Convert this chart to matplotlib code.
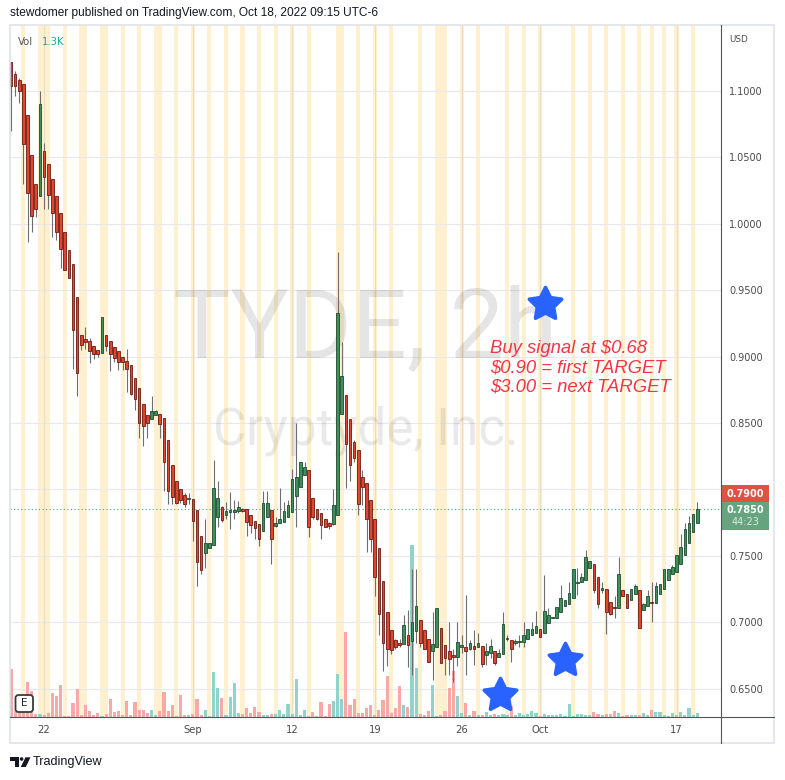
import matplotlib
matplotlib.use("Agg")
import matplotlib.pyplot as plt
import matplotlib.transforms as mtransforms
from matplotlib.patches import Rectangle, FancyBboxPatch, Polygon, Circle
from matplotlib.lines import Line2D
from matplotlib.markers import MarkerStyle
from matplotlib.path import Path
from matplotlib.text import Text
import numpy as np

# ---------------- data ----------------
OPEN = [1.122, 1.113, 1.108, 1.105, 1.082, 1.052, 1.030, 1.021, 1.055, 1.045,
        1.034, 1.021, 1.008, 0.994, 0.980, 0.970, 0.945, 0.916, 0.913, 0.912,
        0.908, 0.905, 0.903, 0.916, 0.912, 0.907, 0.904, 0.900, 0.897, 0.894,
        0.884, 0.876, 0.864, 0.856, 0.853, 0.856, 0.857, 0.854, 0.837, 0.818,
        0.806, 0.800, 0.796, 0.7925, 0.7925, 0.7845, 0.765, 0.752, 0.7555, 0.758,
        0.779, 0.7865, 0.781, 0.783, 0.783, 0.784, 0.785, 0.785, 0.7805, 0.7765,
        0.774, 0.7685, 0.779, 0.7845, 0.7725, 0.7745, 0.7755, 0.779, 0.783, 0.795,
        0.802, 0.811, 0.8145, 0.7935, 0.7855, 0.782, 0.778, 0.7745, 0.774, 0.7805,
        0.8565, 0.871, 0.853, 0.836, 0.830, 0.809, 0.805, 0.792, 0.7775, 0.7555,
        0.731, 0.7075, 0.694, 0.6865, 0.6845, 0.6835, 0.6905, 0.686, 0.693, 0.702,
        0.694, 0.687, 0.6785, 0.681, 0.6955, 0.683, 0.678, 0.675, 0.674, 0.681,
        0.681, 0.680, 0.682, 0.681, 0.682, 0.675, 0.6765, 0.6785, 0.674, 0.676,
        0.687, 0.6865, 0.684, 0.685, 0.685, 0.687, 0.690, 0.692, 0.6945, 0.692,
        0.6995, 0.7035, 0.703, 0.7075, 0.7125, 0.714, 0.718, 0.7298, 0.730, 0.732,
        0.7405, 0.744, 0.734, 0.724, 0.725, 0.7155, 0.7115, 0.711, 0.724, 0.7215,
        0.7165, 0.721, 0.724, 0.7095, 0.712, 0.7155, 0.7145, 0.721, 0.725, 0.732,
        0.736, 0.738, 0.744, 0.7505, 0.760, 0.768, 0.7745]
HIGH = [1.122, 1.115, 1.110, 1.105, 1.082, 1.052, 1.030, 1.100, 1.061, 1.045,
        1.034, 1.021, 1.008, 0.994, 0.980, 0.970, 0.945, 0.916, 0.922, 0.914,
        0.908, 0.905, 0.930, 0.916, 0.912, 0.907, 0.904, 0.900, 0.906, 0.894,
        0.884, 0.876, 0.864, 0.856, 0.870, 0.860, 0.857, 0.854, 0.837, 0.818,
        0.806, 0.800, 0.797, 0.797, 0.7925, 0.7845, 0.765, 0.7775, 0.760, 0.8225,
        0.8065, 0.7875, 0.7905, 0.798, 0.792, 0.791, 0.786, 0.785, 0.7805, 0.7765,
        0.774, 0.799, 0.799, 0.7845, 0.779, 0.801, 0.7905, 0.792, 0.815, 0.850,
        0.8205, 0.8205, 0.8145, 0.7935, 0.7855, 0.782, 0.778, 0.7755, 0.800, 0.979,
        0.911, 0.871, 0.853, 0.837, 0.830, 0.8145, 0.805, 0.792, 0.7775, 0.7555,
        0.731, 0.7075, 0.694, 0.687, 0.687, 0.7055, 0.7095, 0.740, 0.740, 0.702,
        0.694, 0.687, 0.708, 0.7105, 0.6955, 0.683, 0.7005, 0.680, 0.7005, 0.6905,
        0.7205, 0.6865, 0.694, 0.6915, 0.682, 0.684, 0.687, 0.6785, 0.680, 0.7075,
        0.6905, 0.6865, 0.687, 0.6905, 0.7005, 0.695, 0.7005, 0.7085, 0.6945, 0.7355,
        0.711, 0.704, 0.7115, 0.728, 0.7165, 0.7305, 0.740, 0.7405, 0.737, 0.7545,
        0.746, 0.744, 0.734, 0.730, 0.725, 0.7155, 0.720, 0.749, 0.724, 0.7215,
        0.725, 0.729, 0.724, 0.7145, 0.724, 0.730, 0.730, 0.7285, 0.740, 0.740,
        0.743, 0.7505, 0.7665, 0.775, 0.780, 0.7815, 0.7905]
LOW = [1.070, 1.096, 1.091, 1.030, 0.986, 0.994, 1.005, 1.021, 1.011, 1.011,
       0.990, 0.988, 0.967, 0.965, 0.959, 0.891, 0.870, 0.905, 0.906, 0.895,
       0.898, 0.900, 0.903, 0.904, 0.889, 0.896, 0.890, 0.890, 0.873, 0.871,
       0.860, 0.839, 0.833, 0.839, 0.853, 0.856, 0.839, 0.799, 0.789, 0.789,
       0.789, 0.790, 0.787, 0.789, 0.761, 0.727, 0.736, 0.7405, 0.7555, 0.758,
       0.772, 0.7755, 0.778, 0.7705, 0.778, 0.7825, 0.783, 0.765, 0.767, 0.763,
       0.7575, 0.7685, 0.779, 0.7435, 0.7715, 0.7745, 0.7755, 0.779, 0.783, 0.772,
       0.802, 0.811, 0.764, 0.7775, 0.777, 0.763, 0.7715, 0.7705, 0.773, 0.7805,
       0.8565, 0.801, 0.806, 0.821, 0.781, 0.788, 0.753, 0.753, 0.720, 0.6905,
       0.663, 0.667, 0.676, 0.680, 0.681, 0.6835, 0.6665, 0.660, 0.684, 0.6815,
       0.680, 0.670, 0.6565, 0.681, 0.6695, 0.6605, 0.6605, 0.655, 0.667, 0.6765,
       0.6605, 0.679, 0.668, 0.681, 0.666, 0.668, 0.673, 0.668, 0.674, 0.676,
       0.6855, 0.670, 0.683, 0.6815, 0.6815, 0.687, 0.690, 0.692, 0.689, 0.692,
       0.6995, 0.703, 0.703, 0.7075, 0.7125, 0.714, 0.718, 0.7205, 0.730, 0.732,
       0.7405, 0.722, 0.711, 0.722, 0.691, 0.7055, 0.7035, 0.711, 0.720, 0.7105,
       0.7165, 0.721, 0.696, 0.7095, 0.712, 0.7005, 0.7145, 0.721, 0.725, 0.732,
       0.736, 0.738, 0.744, 0.7505, 0.760, 0.768, 0.7745]
CLOSE = [1.104, 1.104, 1.100, 1.060, 1.023, 1.006, 1.011, 1.090, 1.035, 1.022,
         1.008, 0.994, 0.981, 0.965, 0.959, 0.920, 0.888, 0.909, 0.911, 0.904,
         0.902, 0.902, 0.930, 0.908, 0.902, 0.899, 0.896, 0.896, 0.891, 0.872,
         0.868, 0.850, 0.848, 0.850, 0.859, 0.859, 0.849, 0.821, 0.799, 0.794,
         0.790, 0.792, 0.789, 0.7935, 0.776, 0.745, 0.739, 0.7595, 0.760, 0.801,
         0.7935, 0.777, 0.784, 0.7845, 0.7845, 0.7865, 0.784, 0.7755, 0.773, 0.771,
         0.7625, 0.7895, 0.7895, 0.7625, 0.775, 0.778, 0.7835, 0.788, 0.8075, 0.809,
         0.8205, 0.817, 0.7715, 0.779, 0.7775, 0.7735, 0.7715, 0.7725, 0.788, 0.9325,
         0.8855, 0.8345, 0.818, 0.824, 0.789, 0.8015, 0.778, 0.763, 0.734, 0.706,
         0.684, 0.680, 0.679, 0.6815, 0.6825, 0.698, 0.6825, 0.700, 0.712, 0.6845,
         0.680, 0.670, 0.6835, 0.7105, 0.6695, 0.673, 0.672, 0.6735, 0.685, 0.6825,
         0.6785, 0.684, 0.6795, 0.684, 0.6685, 0.678, 0.682, 0.669, 0.677, 0.6985,
         0.688, 0.680, 0.686, 0.6855, 0.690, 0.695, 0.695, 0.6975, 0.689, 0.7085,
         0.7055, 0.7037, 0.7115, 0.7185, 0.7165, 0.722, 0.740, 0.7303, 0.734, 0.749,
         0.746, 0.724, 0.714, 0.726, 0.7075, 0.7065, 0.711, 0.736, 0.720, 0.7105,
         0.725, 0.727, 0.696, 0.7135, 0.7195, 0.7145, 0.727, 0.7285, 0.740, 0.740,
         0.7415, 0.7505, 0.7565, 0.770, 0.775, 0.7815, 0.785]
VOLUME = [15600, 2000, 1600, 2600, 11400, 8500, 980, 980, 650, 1300,
          7800, 6800, 10400, 330, 330, 4600, 9100, 650, 3900, 2000,
          650, 1300, 330, 980, 5900, 1600, 2000, 650, 5200, 650,
          4900, 2300, 2300, 1300, 2300, 650, 2000, 8100, 2000, 3900,
          330, 7200, 650, 650, 980, 5900, 650, 2300, 330, 14600,
          9400, 6200, 650, 6500, 11100, 1300, 980, 2900, 1300, 3300,
          1600, 650, 650, 980, 980, 2300, 980, 4200, 980, 12400,
          650, 2300, 330, 1600, 330, 4900, 330, 4200, 5200, 14000,
          5900, 27600, 3900, 5900, 1300, 1300, 2900, 3900, 650, 2300,
          5500, 13300, 1300, 2900, 10100, 3900, 3300, 55900, 15900, 980,
          650, 2000, 10400, 330, 650, 2000, 9400, 15000, 6800, 1300,
          4600, 650, 2000, 650, 650, 1600, 650, 980, 650, 980,
          650, 3600, 650, 1300, 650, 980, 2000, 1300, 330, 980,
          650, 650, 650, 980, 330, 4200, 330, 980, 980, 650,
          650, 1600, 980, 650, 980, 980, 2000, 1300, 330, 650,
          650, 650, 650, 1300, 650, 2300, 1600, 1600, 650, 330,
          1300, 650, 1600, 650, 2900, 650, 1300]
EXTENDED_HOURS_BARS = [3, 7, 8, 9, 13, 17, 18, 22, 23, 27, 31, 35, 36, 40, 44, 48,
                       52, 56, 60, 64, 68, 72, 79, 80, 84, 88, 92, 99, 103, 104,
                       105, 109, 113, 120, 124, 128, 136, 140, 144, 148, 152, 155,
                       158, 161, 165]
DATE_TICK_BARS = [8, 44, 68, 88, 109, 128, 161]
DATE_TICK_LABELS = ["22", "Sep", "12", "19", "26", "Oct", "17"]
PRICE_GRID = [0.65, 0.70, 0.75, 0.80, 0.85, 0.90, 0.95, 1.00, 1.05, 1.10]
PRICE_LABELS = [0.65, 0.70, 0.75, 0.85, 0.90, 0.95, 1.00, 1.05, 1.10]
LAST_PRICE = 0.785
HIGH_PRICE_LABEL = 0.79
COUNTDOWN = "44:23"
LAST_VOLUME_TEXT = "1.3K"
STAR_BARS = [129.2, 134.0, 118.2]
STAR_PRICES = [0.9396, 0.6715, 0.6455]
NOTE_LINES = ["Buy signal at $0.68", "$0.90 = first TARGET", "$3.00 = next TARGET"]
NOTE_BAR = 115.9
NOTE_PRICE = 0.9027   # baseline of the first line
HEADER = "stewdomer published on TradingView.com, Oct 18, 2022 09:15 UTC-6"
WATERMARK_1 = "TYDE, 2h"
WATERMARK_2 = "Cryptyde, Inc."

# ---------------- layout / style ----------------
W, H = 785, 780
PL, PR, PT, PB = 10, 721, 25, 717
Y_MIN, Y_MAX = 0.62861, 1.14970
X_MIN, X_MAX = -0.242, 171.75
VOL_FULL = 224900.0

UP_FILL, UP_EDGE = "#3e8e5e", "#1d4a2e"
DN_FILL, DN_EDGE = "#e2452f", "#6a1a10"
WICK = "#6e6e6e"
VOL_UP, VOL_DN = "#92d2cc", "#f7a9a7"
BAND = "#fff1cf"
GRID = "#e8e8ea"
TXT = "#4a4a4a"
BLUE = "#2962ff"
NOTE_RED = "#f23645"

fig = plt.figure(figsize=(W / 100, H / 100), dpi=100)
fig.patch.set_facecolor("white")
ax = fig.add_axes([PL / W, 1 - PB / H, (PR - PL) / W, (PB - PT) / H])
ax.set_xlim(X_MIN, X_MAX)
ax.set_ylim(Y_MIN, Y_MAX)
ax.set_facecolor("white")
for s in ax.spines.values():
    s.set_visible(False)

PX = mtransforms.IdentityTransform()


def fy(y):
    return H - y


# extended-hours background bands (merge consecutive bars)
groups = []
for b in EXTENDED_HOURS_BARS:
    if groups and b == groups[-1][1] + 1:
        groups[-1][1] = b
    else:
        groups.append([b, b])
for a, b in groups:
    ax.axvspan(a - 0.5, b + 0.5, facecolor=BAND, lw=0, zorder=0.3)

# grid
for p in PRICE_GRID:
    ax.axhline(p, color=GRID, lw=0.8, zorder=0.6)
for t in DATE_TICK_BARS:
    ax.axvline(t, color="#d9cfb8", lw=0.8, alpha=0.55, zorder=0.6)

# watermark
ax.text(0.5, (PB - 358) / (PB - PT), WATERMARK_1, transform=ax.transAxes,
        ha="center", va="baseline", fontsize=69.5, family="Roboto",
        color=(0, 0, 0, 0.10), zorder=0.7)
ax.text(0.5, (PB - 445) / (PB - PT), WATERMARK_2, transform=ax.transAxes,
        ha="center", va="baseline", fontsize=36.8, family="Roboto",
        color=(0, 0, 0, 0.085), zorder=0.7)

n = len(OPEN)
xs = np.arange(n)
o = np.array(OPEN); h = np.array(HIGH); l = np.array(LOW); c = np.array(CLOSE)
v = np.array(VOLUME, dtype=float)
up = c >= o

# volume (overlay at bottom of price pane)
vol_h = v / VOL_FULL * (Y_MAX - Y_MIN)
ax.bar(xs, vol_h, bottom=Y_MIN, width=0.76,
       color=np.where(up, VOL_UP, VOL_DN), lw=0, zorder=2)

# last price dotted line
ax.axhline(LAST_PRICE, color="#4f9a7e", lw=0.8, ls=(0, (1, 2.2)), zorder=3)

# candles
BW = 0.64
MIN_BODY = 0.0008
ax.vlines(xs, l, h, color=WICK, lw=0.8, zorder=4)
for i in range(n):
    bot = min(o[i], c[i])
    ht = abs(c[i] - o[i])
    if ht < MIN_BODY:
        bot = (o[i] + c[i]) / 2 - MIN_BODY / 2
        ht = MIN_BODY
    ax.add_patch(Rectangle((i - BW / 2, bot), BW, ht,
                           facecolor=UP_FILL if up[i] else DN_FILL,
                           edgecolor=UP_EDGE if up[i] else DN_EDGE,
                           lw=0.6, zorder=5))

# stars
ang = np.deg2rad(90 + np.arange(10) * 36)
rad = np.where(np.arange(10) % 2 == 0, 1.0, 0.5)
verts = np.c_[rad * np.cos(ang), rad * np.sin(ang)]
verts = np.vstack([verts, verts[:1]])
star = Path(verts, [Path.MOVETO] + [Path.LINETO] * 9 + [Path.CLOSEPOLY])
ax.plot(STAR_BARS, STAR_PRICES, ls="none",
        marker=MarkerStyle(star, joinstyle="round"), ms=24.5,
        mfc=BLUE, mec=BLUE, mew=2.6, zorder=6)

# note text: one multi-line block, first baseline anchored at NOTE_PRICE
note = ax.text(NOTE_BAR, NOTE_PRICE, "\n".join(NOTE_LINES), ha="left", va="top",
               fontsize=13.3, family="Liberation Sans", style="italic",
               color=NOTE_RED, linespacing=1.19, zorder=7)
fig.canvas.draw()
r = fig.canvas.get_renderer()
probe = Text(0, 0, "lp", fontsize=13.3, family="Liberation Sans", style="italic")
_, lp_h, lp_d = r.get_text_width_height_descent("lp", probe.get_fontproperties(), ismath=False)
note.set_transform(ax.transData + mtransforms.ScaledTranslation(0, (lp_h - lp_d) / 100.0,
                                                                fig.dpi_scale_trans))

# axes ticks
ax.set_xticks(DATE_TICK_BARS)
ax.set_xticklabels(DATE_TICK_LABELS)
ax.tick_params(axis="x", length=0, pad=5.5, labelsize=7.2, labelcolor=TXT)
ax.yaxis.tick_right()
ax.set_yticks(PRICE_LABELS)
ax.set_yticklabels([f"{p:.4f}" for p in PRICE_LABELS])
ax.tick_params(axis="y", length=0, pad=5.8, labelsize=7.0, labelcolor=TXT)
for lab in ax.get_xticklabels() + ax.get_yticklabels():
    lab.set_family("DejaVu Sans")

# frame and scale separators
fig.add_artist(Rectangle((10, fy(743)), 764, 718, transform=PX, fill=False,
                         ec="#e0e3eb", lw=1.2))
fig.add_artist(Line2D([PR, PR], [fy(PT), fy(743)], transform=PX, color="#555555", lw=0.8))
fig.add_artist(Line2D([PL, 774], [fy(PB), fy(PB)], transform=PX, color="#555555", lw=0.8))

# price labels on the scale
py_last = PT + (Y_MAX - LAST_PRICE) / (Y_MAX - Y_MIN) * (PB - PT)
fig.add_artist(Rectangle((PR, fy(py_last - 7)), 48, 17, transform=PX,
                         fc="#de5244", ec="none"))
fig.text(745 / W, 1 - (py_last - 15.5) / H, f"{HIGH_PRICE_LABEL:.4f}", ha="center",
         va="center", fontsize=7, weight="bold", color="white")
fig.add_artist(Rectangle((PR, fy(py_last + 21)), 48, 28, transform=PX,
                         fc="#65a47f", ec="none"))
fig.text(745 / W, 1 - (py_last + 0.5) / H, f"{LAST_PRICE:.4f}", ha="center",
         va="center", fontsize=7, weight="bold", color="white")
fig.text(745 / W, 1 - (py_last + 13) / H, COUNTDOWN, ha="center",
         va="center", fontsize=7, color="#dcebe2")

fig.text(729 / W, 1 - 40 / H, "USD", ha="left", va="center", fontsize=6.3, color=TXT)

# header, legend
fig.text(10 / W, 1 - 13 / H, HEADER, ha="left", va="center", fontsize=8.6,
         family="Liberation Sans", color="#131722")
fig.text(18 / W, 1 - 42 / H, "Vol", ha="left", va="center", fontsize=7.3, color="#555555")
fig.text(42 / W, 1 - 42 / H, LAST_VOLUME_TEXT, ha="left", va="center", fontsize=7.3,
         color="#26a69a")

# earnings marker
fig.add_artist(FancyBboxPatch((15.5, fy(712)), 17.5, 17, transform=PX,
                              boxstyle="round,pad=0,rounding_size=3",
                              fc="white", ec="#3b3b3b", lw=1.3, zorder=10))
fig.text(24.3 / W, 1 - 703.5 / H, "E", ha="center", va="center", fontsize=7.5,
         color="#222222", zorder=11)

# TradingView logo
logo = "#131722"
fig.add_artist(Rectangle((10, fy(760.7)), 9, 3.4, transform=PX, fc=logo, ec="none"))
fig.add_artist(Rectangle((14.5, fy(767)), 4.5, 9.7, transform=PX, fc=logo, ec="none"))
fig.add_artist(Circle((21.6, fy(759)), 1.8, transform=PX, fc=logo, ec="none"))
fig.add_artist(Polygon([(25.5, fy(757.3)), (30.5, fy(757.3)), (25.8, fy(767)), (20.8, fy(767))],
                       closed=True, transform=PX, fc=logo, ec="none"))
fig.text(33 / W, 1 - 762 / H, "TradingView", ha="left", va="center", fontsize=9.1,
         family="Liberation Sans", color=logo)

fig.savefig("out.png", dpi=100, facecolor="white")
